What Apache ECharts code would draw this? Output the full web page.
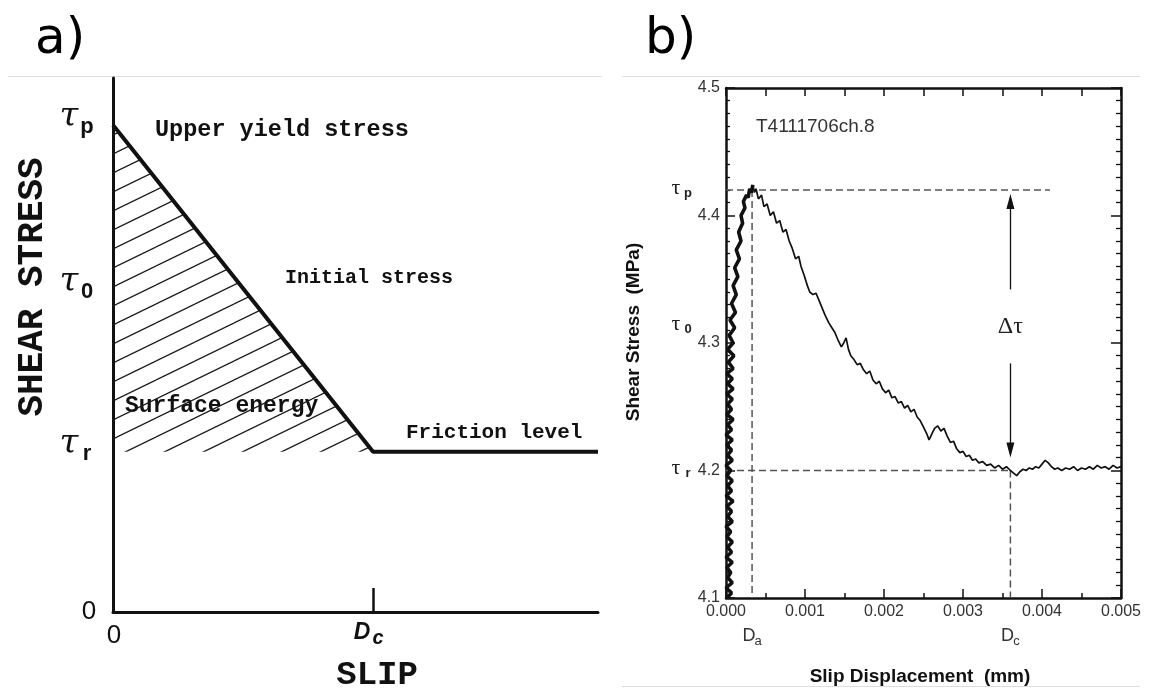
<!DOCTYPE html>
<html><head><meta charset="utf-8">
<script src="https://cdn.jsdelivr.net/npm/echarts@6/dist/echarts.min.js"></script>
<style>html,body{margin:0;padding:0;background:#fff}#c{width:1151px;height:689px}</style>
</head><body><div id="c"></div>
<script>
// ---------- panel a) schematic slip-weakening ----------
const schemStressKeys = ['p', '0', 'r'];          // tau_p, tau_0, tau_r
const schemStressLevels = [9.12, 6.03, 3.0];
const schemSlipLevels = [0, 1.0];                  // 0, Dc
const schemSlipEnd = 1.865;
const schemStressMax = 10;

// ---------- panel b) experiment ----------
// loading (rising) branch
const riseSlip = [
0.00001,0.00007,0.00000,0.00008,0.00002,0.00006,0.00001,0.00008,0.00000,0.00007,
0.00002,0.00008,0.00001,0.00006,0.00000,0.00008,0.00002,0.00007,0.00001,0.00009,
0.00000,0.00007,0.00002,0.00008,0.00001,0.00006,0.00000,0.00008,0.00002,0.00007,
0.00001,0.00008,0.00000,0.00007,0.00002,0.00009,0.00001,0.00007,0.00002,0.00008,
0.00001,0.00009,0.00002,0.00008,0.00001,0.00009,0.00003,0.00010,0.00002,0.00009,
0.00004,0.00011,0.00005,0.00012,0.00007,0.00013,0.00009,0.00015,0.00011,0.00017,
0.00013,0.00019,0.00016,0.00021,0.00019,0.00024,0.00022,0.00026,0.00028,0.00030,
0.00032,0.00034];
const riseStress = [
4.100,4.104,4.108,4.112,4.116,4.120,4.124,4.128,4.132,4.136,
4.140,4.144,4.148,4.152,4.156,4.160,4.164,4.168,4.172,4.176,
4.180,4.184,4.188,4.192,4.196,4.200,4.204,4.208,4.212,4.216,
4.220,4.224,4.228,4.232,4.236,4.240,4.244,4.248,4.252,4.256,
4.260,4.264,4.268,4.272,4.276,4.280,4.285,4.290,4.295,4.300,
4.306,4.312,4.318,4.324,4.331,4.338,4.345,4.352,4.359,4.366,
4.373,4.380,4.387,4.394,4.400,4.406,4.411,4.416,4.414,4.421,
4.418,4.424];
// weakening branch and residual friction
const decaySlip = [
0.00034,
0.00036,0.00038,0.00041,0.00045,0.00048,0.00052,0.00056,0.00060,0.00064,0.00068,
0.00072,0.00076,0.00080,0.00084,0.00088,0.00092,0.00095,0.00099,0.00103,0.00106,
0.00110,0.00114,0.00118,0.00122,0.00126,0.00130,0.00134,0.00138,0.00142,0.00146,
0.00149,0.00152,0.00155,0.00158,0.00162,0.00166,0.00170,0.00174,0.00178,0.00182,
0.00186,0.00190,0.00194,0.00198,0.00202,0.00206,0.00210,0.00214,0.00218,0.00222,
0.00226,0.00230,0.00234,0.00238,0.00242,0.00246,0.00250,0.00254,0.00257,0.00260,
0.00264,0.00268,0.00272,0.00276,0.00280,0.00284,0.00288,0.00292,0.00296,0.00300,
0.00304,0.00308,0.00312,0.00316,0.00320,0.00325,0.00330,0.00335,0.00340,0.00345,
0.00350,0.00355,0.00360,0.00364,0.00368,0.00372,0.00376,0.00380,0.00384,0.00388,
0.00392,0.00396,0.00400,0.00404,0.00408,0.00412,0.00416,0.00420,0.00425,0.00430,
0.00435,0.00440,0.00445,0.00450,0.00455,0.00460,0.00465,0.00470,0.00475,0.00480,
0.00485,0.00490,0.00495,0.00500];
const decayStress = [
4.424,
4.418,4.421,4.413,4.416,4.407,4.409,4.400,4.403,4.394,4.396,
4.387,4.389,4.380,4.374,4.366,4.368,4.360,4.353,4.345,4.340,
4.338,4.339,4.333,4.327,4.321,4.316,4.312,4.308,4.302,4.297,
4.300,4.304,4.295,4.290,4.287,4.283,4.284,4.279,4.276,4.278,
4.271,4.268,4.270,4.264,4.261,4.263,4.257,4.258,4.253,4.254,
4.249,4.251,4.246,4.248,4.242,4.239,4.234,4.229,4.224,4.228,
4.233,4.235,4.231,4.233,4.227,4.222,4.223,4.217,4.214,4.215,
4.211,4.212,4.208,4.209,4.206,4.207,4.204,4.205,4.202,4.204,
4.201,4.203,4.200,4.198,4.196,4.199,4.201,4.200,4.202,4.201,
4.203,4.202,4.205,4.208,4.206,4.203,4.201,4.202,4.200,4.202,
4.201,4.203,4.200,4.202,4.201,4.203,4.201,4.204,4.202,4.203,
4.201,4.204,4.202,4.203];
const expRefSlip = [0.00033, 0.0036];          // Da, Dc
const expRefSlipKeys = ['a', 'c'];
const expRefStress = [4.42, 4.313, 4.2];       // tau_p, tau_0, tau_r
const expRefStressKeys = ['p', '0', 'r'];
const expTauPLineEnd = 0.0041;
const expArrowUp = [4.342, 4.411];
const expArrowDown = [4.284, 4.216];
const expXRange = [0, 0.005, 0.001];
const expYRange = [4.1, 4.5, 0.1];

function hatchPattern() {
  const W = 39, H = 19;
  const c = document.createElement('canvas');
  c.width = W; c.height = H;
  const g = c.getContext('2d');
  g.strokeStyle = '#1a1a1a'; g.lineWidth = 1.3;
  [[0,0],[0,-H],[0,H],[-W,0],[W,0]].forEach(([dx,dy]) => {
    g.beginPath(); g.moveTo(dx, dy + H); g.lineTo(dx + W, dy); g.stroke();
  });
  return c;
}

const tauP = schemStressLevels[0], tauR = schemStressLevels[2], Dc = schemSlipLevels[1];
const dashStyle = { color: '#555', width: 1.5, type: [7, 4] };
const dashSeries = (data) => ({
  type: 'line', xAxisIndex: 1, yAxisIndex: 1, data, symbol: 'none', silent: true,
  lineStyle: dashStyle, z: 2
});

const chart = echarts.init(document.getElementById('c'), null, { renderer: 'canvas' });
const option = {
  animation: false,
  backgroundColor: '#fff',
  grid: [
    { left: 113, top: 78, width: 485, height: 534, outerBoundsMode: 'none' },
    { left: 726, top: 88, width: 395, height: 510, outerBoundsMode: 'none' }
  ],
  xAxis: [
    { gridIndex: 0, type: 'value', min: 0, max: schemSlipEnd,
      axisLine: { show: true, onZero: false, lineStyle: { color: '#111', width: 3 } },
      axisTick: { show: true, inside: true, length: 24, customValues: [Dc], lineStyle: { color: '#111', width: 2.5 } },
      axisLabel: { show: false }, splitLine: { show: false } },
    { gridIndex: 1, type: 'value', min: expXRange[0], max: expXRange[1], interval: expXRange[2],
      axisLine: { show: true, onZero: false, lineStyle: { color: '#111', width: 2.5 } },
      axisTick: { show: true, inside: true, length: 9, lineStyle: { color: '#111', width: 1.5 } },
      minorTick: { show: true, splitNumber: 2, length: 5, lineStyle: { color: '#111', width: 1.5 } },
      axisLabel: { show: true, margin: 6, fontSize: 16, fontFamily: 'Liberation Sans', color: '#333',
        formatter: v => v.toFixed(3) },
      splitLine: { show: false } },
    { gridIndex: 1, type: 'value', position: 'top', min: expXRange[0], max: expXRange[1], interval: expXRange[2],
      axisLine: { show: true, onZero: false, lineStyle: { color: '#111', width: 2.5 } },
      axisTick: { show: true, inside: true, length: 8, lineStyle: { color: '#111', width: 1.5 } },
      minorTick: { show: true, splitNumber: 2, length: 8, lineStyle: { color: '#111', width: 1.5 } },
      axisLabel: { show: false }, splitLine: { show: false } }
  ],
  yAxis: [
    { gridIndex: 0, type: 'value', min: 0, max: schemStressMax,
      axisLine: { show: true, onZero: false, lineStyle: { color: '#111', width: 3 } },
      axisTick: { show: false }, axisLabel: { show: false }, splitLine: { show: false } },
    { gridIndex: 1, type: 'value', min: expYRange[0], max: expYRange[1], interval: expYRange[2],
      axisLine: { show: true, onZero: false, lineStyle: { color: '#111', width: 2.5 } },
      axisTick: { show: true, inside: true, length: 9, lineStyle: { color: '#111', width: 1.5 } },
      minorTick: { show: true, splitNumber: 10, length: 4, lineStyle: { color: '#111', width: 1.3 } },
      axisLabel: { show: true, margin: 6, fontSize: 16, fontFamily: 'Liberation Sans', color: '#333',
        formatter: v => v.toFixed(1) },
      splitLine: { show: false } },
    { gridIndex: 1, type: 'value', position: 'right', min: expYRange[0], max: expYRange[1], interval: expYRange[2],
      axisLine: { show: true, onZero: false, lineStyle: { color: '#111', width: 2.5 } },
      axisTick: { show: true, inside: true, length: 10, lineStyle: { color: '#111', width: 1.5 } },
      minorTick: { show: true, splitNumber: 10, length: 5, lineStyle: { color: '#111', width: 1.3 } },
      axisLabel: { show: false }, splitLine: { show: false } }
  ],
  series: [
    { type: 'line', xAxisIndex: 0, yAxisIndex: 0, data: [[0, tauP], [Dc, tauR]], symbol: 'none', silent: true,
      lineStyle: { width: 0 }, areaStyle: { origin: tauR, opacity: 1, color: { image: hatchPattern(), repeat: 'repeat' } }, z: 1 },
    { type: 'line', xAxisIndex: 0, yAxisIndex: 0, data: [[0, tauP], [Dc, tauR], [schemSlipEnd, tauR]],
      symbol: 'none', silent: true, lineStyle: { color: '#111', width: 4 }, z: 3 },
    dashSeries([[0, expRefStress[0]], [expTauPLineEnd, expRefStress[0]]]),
    dashSeries([[expRefSlip[0], expRefStress[0]], [expRefSlip[0], expYRange[0]]]),
    dashSeries([[0, expRefStress[2]], [expRefSlip[1], expRefStress[2]]]),
    dashSeries([[expRefSlip[1], expRefStress[2]], [expRefSlip[1], expYRange[0]]]),
    { type: 'line', xAxisIndex: 1, yAxisIndex: 1, data: riseSlip.map((x, i) => [x, riseStress[i]]),
      symbol: 'none', silent: true, lineStyle: { color: '#111', width: 3.6 }, z: 4 },
    { type: 'line', xAxisIndex: 1, yAxisIndex: 1, data: decaySlip.map((x, i) => [x, decayStress[i]]),
      symbol: 'none', silent: true, lineStyle: { color: '#111', width: 1.7 }, z: 4,
      markLine: { silent: true, symbol: ['none', 'triangle'], symbolSize: [8, 15], label: { show: false },
        lineStyle: { color: '#111', width: 1.3, type: 'solid' },
        data: [
          [{ coord: [expRefSlip[1], expArrowUp[0]] }, { coord: [expRefSlip[1], expArrowUp[1]] }],
          [{ coord: [expRefSlip[1], expArrowDown[0]] }, { coord: [expRefSlip[1], expArrowDown[1]] }]
        ] } }
  ]
};
chart.setOption(option);

const pa = (x, y) => chart.convertToPixel({ xAxisIndex: 0, yAxisIndex: 0 }, [x, y]);
const pb = (x, y) => chart.convertToPixel({ xAxisIndex: 1, yAxisIndex: 1 }, [x, y]);
const T = (x, y, text, font, extra) => Object.assign({
  type: 'text', x, y, silent: true,
  style: Object.assign({ text, font, fill: '#111', align: 'center', verticalAlign: 'middle' }, (extra && extra.style) || {})
}, extra && extra.rotation !== undefined ? { rotation: extra.rotation } : {});

const g = [];
// frame lines
g.push({ type: 'line', shape: { x1: 8, y1: 76.5, x2: 602, y2: 76.5 }, style: { stroke: '#ddd', lineWidth: 1 }, silent: true });
g.push({ type: 'line', shape: { x1: 622, y1: 76.5, x2: 1140, y2: 76.5 }, style: { stroke: '#ddd', lineWidth: 1 }, silent: true });
g.push({ type: 'line', shape: { x1: 622, y1: 686.5, x2: 1140, y2: 686.5 }, style: { stroke: '#ddd', lineWidth: 1 }, silent: true });
// panel letters
g.push(T(35, 40, 'a)', '50px "DejaVu Sans"', { style: { align: 'left', fill: '#000' } }));
g.push(T(645, 40, 'b)', '50px "DejaVu Sans"', { style: { align: 'left', fill: '#000' } }));

// panel a labels
schemStressKeys.forEach((k, i) => {
  const p = pa(0, schemStressLevels[i]);
  g.push(T(p[0] - 44, p[1] - 8, 'τ', 'italic 34px "DejaVu Serif"'));
  g.push(T(p[0] - 26, p[1] + 2, k, 'bold 22px "Liberation Sans"'));
});
const p0 = pa(0, 0);
g.push(T(p0[0] - 24, p0[1], '0', '26px "Liberation Sans"'));
g.push(T(p0[0] + 1, p0[1] + 24, '0', '26px "Liberation Sans"'));
const pdc = pa(Dc, 0);
g.push(T(pdc[0] - 11, pdc[1] + 21, 'D', 'italic bold 23px "Liberation Sans"'));
g.push(T(pdc[0] + 5, pdc[1] + 26, 'c', 'italic bold 20px "Liberation Sans"'));
g.push(T(pdc[0] + 4, 675, 'SLIP', 'bold 34px "Liberation Mono"'));
g.push(T(33, 287, 'SHEAR STRESS', 'bold 36px "Liberation Mono"', { rotation: Math.PI / 2 }));
g.push(T(155, 130, 'Upper yield stress', 'bold 23.5px "Liberation Mono"', { style: { align: 'left' } }));
g.push(T(285, 278, 'Initial stress', 'bold 20px "Liberation Mono"', { style: { align: 'left' } }));
g.push(T(125, 406, 'Surface energy', 'bold 23px "Liberation Mono"', { style: { align: 'left' } }));
g.push(T(406, 433, 'Friction level', 'bold 21px "Liberation Mono"', { style: { align: 'left' } }));

// panel b labels
expRefStressKeys.forEach((k, i) => {
  const p = pb(0, expRefStress[i]);
  g.push(T(p[0] - 50, p[1] - 2, 'τ', '22px "Liberation Serif"', { style: { fill: '#222' } }));
  g.push(T(p[0] - 38, p[1] + 3, k, 'bold 13px "Liberation Sans"', { style: { fill: '#222' } }));
});
expRefSlipKeys.forEach((k, i) => {
  const p = pb(expRefSlip[i], expYRange[0]);
  g.push(T(p[0] - 3, p[1] + 38, 'D', '18px "Liberation Sans"', { style: { fill: '#333' } }));
  g.push(T(p[0] + 6, p[1] + 43, k, '13px "Liberation Sans"', { style: { fill: '#333' } }));
});
const pd = pb(expRefSlip[1], (expArrowUp[0] + expArrowDown[0]) / 2);
g.push(T(pd[0], pd[1], 'Δτ', '24px "Liberation Serif"', { style: { fill: '#222' } }));
g.push(T(756, 127, 'T4111706ch.8', '19px "Liberation Sans"', { style: { align: 'left', fill: '#333' } }));
g.push(T(634, 332, 'Shear Stress  (MPa)', 'bold 19px "Liberation Sans"', { rotation: Math.PI / 2 }));
g.push(T(920, 677, 'Slip Displacement  (mm)', 'bold 19px "Liberation Sans"'));

chart.setOption({ graphic: { elements: g } });
</script></body></html>
